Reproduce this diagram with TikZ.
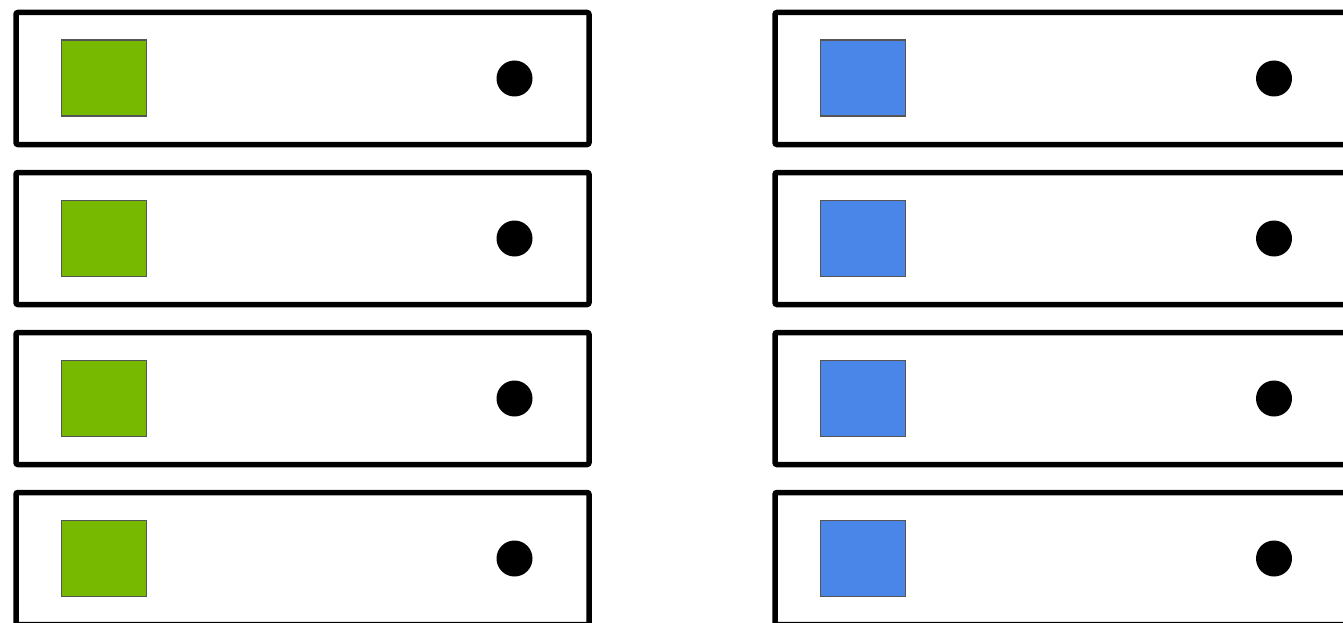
\documentclass[tikz,border=0pt]{standalone}
\usepackage{xcolor}
\usepackage{tikz}
\usetikzlibrary{positioning}
\definecolor{gpugreen}{HTML}{76B900}
\definecolor{gpublue}{HTML}{4A86E8}
\definecolor{edgegrey}{HTML}{555555}

\begin{document}
\begin{tikzpicture}[x=1pt,y=-1pt,
  slot/.style={draw=black,line width=5.5pt,rounded corners=2pt,fill=white,
               minimum width=573pt,minimum height=132pt,inner sep=0pt},
  chip/.style={draw=edgegrey,line width=1.5pt,minimum width=85pt,
               minimum height=76pt,inner sep=0pt},
  led/.style={circle,fill=black,minimum size=36pt,inner sep=0pt},
]
\useasboundingbox (0,0) rectangle (1343,623);

\foreach \r in {0,1,2,3}{
  % left column
  \node[slot] (ls\r) at (302.5,78.5+160*\r) {};
  \node[chip,fill=gpugreen] (lc\r) at (103.75,78.25+160*\r) {};
  \node[led] (ll\r) at (514.5,78.5+160*\r) {};
  % right column
  \node[slot] (rs\r) at (1061.5,78.5+160*\r) {};
  \node[chip,fill=gpublue] (rc\r) at (863,78.25+160*\r) {};
  \node[led] (rl\r) at (1274,78.5+160*\r) {};
}
\end{tikzpicture}
\end{document}
